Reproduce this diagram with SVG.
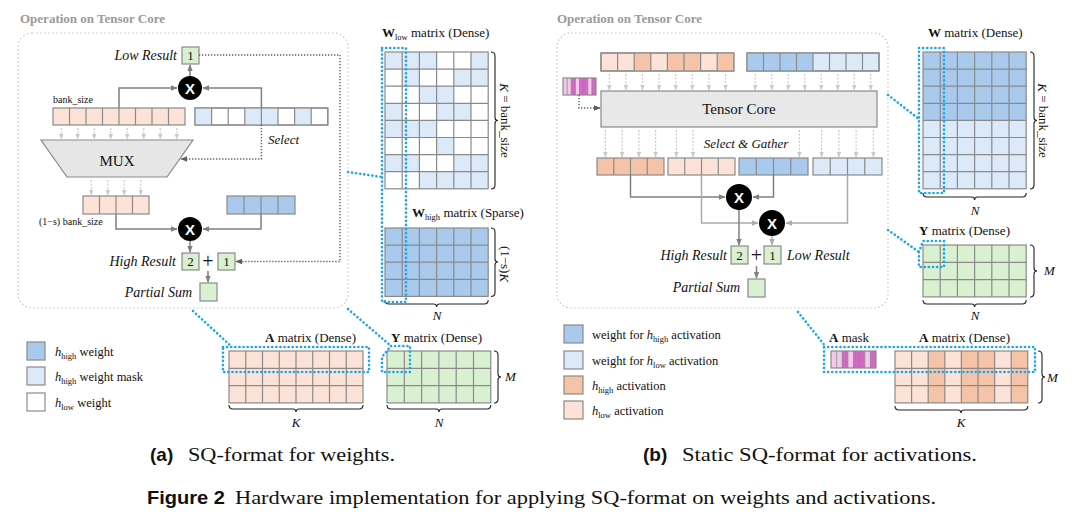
<svg xmlns="http://www.w3.org/2000/svg" width="1080" height="527" viewBox="0 0 1080 527">
<defs>
<style>
.t{font-family:"Liberation Serif","DejaVu Serif",serif;fill:#111;}
.it{font-style:italic;}
.b{font-weight:bold;}
.title{font-family:"Liberation Serif","DejaVu Serif",serif;font-weight:bold;font-size:13px;fill:#9a9a9a;}
.cell{stroke:#8a8a8a;stroke-width:1.2;}
.grid{stroke:#8a8a8a;stroke-width:1.2;fill:none;}
.thin{stroke:#8a8a8a;stroke-width:0.8;fill:none;}
.lo{fill:#fde3d7}.do{fill:#f5c3a7}.db{fill:#a9caed}.lb{fill:#dbe9f8}.gr{fill:#daf1d1}.wh{fill:#ffffff}
.mp{fill:#f2c9ec}.mm{fill:#d466c6}
.frame{fill:none;stroke:#c4c4c4;stroke-width:1.2;stroke-dasharray:1.5 2.5;}
.cy{fill:none;stroke:#1ea7e6;stroke-width:2.6;stroke-dasharray:0.1 4;stroke-linecap:round;}
.arr{fill:none;stroke:#7f7f7f;stroke-width:1.5;marker-end:url(#ah);}
.arrl{fill:none;stroke:#ababab;stroke-width:1.5;marker-end:url(#ahl);}
.dot{fill:none;stroke:#5e5e5e;stroke-width:1.4;stroke-dasharray:1.3 1.7;marker-end:url(#ahd);}
.sm{fill:none;stroke:#c9c9c9;stroke-width:1.2;stroke-dasharray:2 1.6;marker-end:url(#ahs);}
.brace{fill:none;stroke:#222;stroke-width:1.1;}
.xt{font-family:"Liberation Sans",Arial,sans-serif;font-weight:bold;font-size:15px;fill:#fff;text-anchor:middle;}
.cap{font-family:"Liberation Sans",Arial,sans-serif;font-weight:bold;fill:#111;}
.mux{fill:#e6e6e6;stroke:#8a8a8a;stroke-width:1.2;}
</style>
<marker id="ah" viewBox="0 0 10 10" refX="9" refY="5" markerWidth="7" markerHeight="7" markerUnits="userSpaceOnUse" orient="auto"><path d="M0,1 L10,5 L0,9 Z" fill="#7f7f7f"/></marker>
<marker id="ahl" viewBox="0 0 10 10" refX="9" refY="5" markerWidth="7" markerHeight="7" markerUnits="userSpaceOnUse" orient="auto"><path d="M0,1 L10,5 L0,9 Z" fill="#ababab"/></marker>
<marker id="ahd" viewBox="0 0 10 10" refX="9" refY="5" markerWidth="7" markerHeight="7" markerUnits="userSpaceOnUse" orient="auto"><path d="M0,1 L10,5 L0,9 Z" fill="#5e5e5e"/></marker>
<marker id="ahs" viewBox="0 0 10 10" refX="9" refY="5" markerWidth="6" markerHeight="6" markerUnits="userSpaceOnUse" orient="auto"><path d="M0,1 L10,5 L0,9 Z" fill="#c9c9c9"/></marker>
</defs>
<rect x="0" y="0" width="1080" height="527" fill="#ffffff"/>

<!-- ================= PANEL A ================= -->
<g id="a-frame">
<rect class="frame" x="18" y="33" width="330" height="275" rx="14"/>
<text class="title" x="20" y="23">Operation on Tensor Core</text>
</g>

<g id="a-low-result">
<text class="t it" x="177" y="60" font-size="14" text-anchor="end">Low Result</text>
<rect class="cell gr" x="182" y="47" width="17" height="17"/>
<text class="t" x="190.5" y="60" font-size="13" text-anchor="middle">1</text>
</g>

<g id="a-mult-low"><circle cx="190" cy="88" r="12" fill="#000"/><text class="xt" x="190" y="93.5">X</text></g>

<g id="a-act-row">
<text class="t" x="53" y="103" font-size="10">bank_size</text>
<rect class="cell lo" x="53" y="108" width="132" height="17"/>
<path class="grid" d="M69.5,108V125M86,108V125M102.5,108V125M119,108V125M135.5,108V125M152,108V125M168.5,108V125"/>
</g>

<g id="a-weight-row">
<rect class="cell wh" x="195" y="108" width="132.8" height="17"/>
<rect class="lb" x="195" y="108" width="16.6" height="17"/>
<rect class="lb" x="244.8" y="108" width="33.2" height="17"/>
<rect class="lb" x="294.6" y="108" width="16.6" height="17"/>
<rect class="grid" x="195" y="108" width="132.8" height="17"/>
<path class="grid" d="M211.6,108V125M228.2,108V125M244.8,108V125M261.4,108V125M278,108V125M294.6,108V125M311.2,108V125"/>
<text class="t it" x="268" y="144" font-size="13">Select</text>
</g>

<g id="a-mux">
<polygon class="mux" points="41,140 193,140 167,177 67,177"/>
<text class="t" x="117" y="166" font-size="15" text-anchor="middle">MUX</text>
</g>

<g id="a-high-act">
<rect class="cell lo" x="83" y="196" width="66" height="18"/>
<path class="grid" d="M99.5,196V214M116,196V214M132.5,196V214"/>
<text class="t" x="39" y="225" font-size="10">(1−s) bank_size</text>
</g>

<g id="a-high-weight">
<rect class="cell db" x="227" y="196" width="68" height="18"/>
<path class="grid" d="M244,196V214M261,196V214M278,196V214"/>
</g>

<g id="a-mult-high"><circle cx="190" cy="229" r="12" fill="#000"/><text class="xt" x="190" y="234.5">X</text></g>

<g id="a-high-result">
<text class="t it" x="176" y="266" font-size="14" text-anchor="end">High Result</text>
<rect class="cell gr" x="182" y="253" width="17" height="17"/>
<text class="t" x="190.5" y="266" font-size="13" text-anchor="middle">2</text>
<text class="t" x="208" y="268" font-size="20" text-anchor="middle">+</text>
<rect class="cell gr" x="218" y="253" width="17" height="17"/>
<text class="t" x="226.5" y="266" font-size="13" text-anchor="middle">1</text>
</g>

<g id="a-partial-sum">
<text class="t it" x="192" y="297" font-size="14" text-anchor="end">Partial Sum</text>
<rect class="cell gr" x="200" y="283" width="17" height="18"/>
</g>

<g id="a-wlow">
<text class="t" x="382" y="37" font-size="13"><tspan class="b">W</tspan><tspan font-size="8.5" dy="2.5">low</tspan><tspan dy="-2.5"> matrix (Dense)</tspan></text>
<rect class="wh" x="385" y="52" width="103.2" height="136.8"/>
<rect class="lb" x="385" y="52" width="51.6" height="17.1"/>
<rect class="lb" x="471" y="52" width="17.2" height="17.1"/>
<rect class="lb" x="402.2" y="69.1" width="17.2" height="17.1"/>
<rect class="lb" x="453.8" y="69.1" width="34.4" height="17.1"/>
<rect class="lb" x="419.4" y="86.2" width="34.4" height="17.1"/>
<rect class="lb" x="385" y="103.3" width="17.2" height="17.1"/>
<rect class="lb" x="436.6" y="103.3" width="34.4" height="17.1"/>
<rect class="lb" x="385" y="120.4" width="51.6" height="17.1"/>
<rect class="lb" x="436.6" y="137.5" width="17.2" height="17.1"/>
<rect class="lb" x="385" y="154.6" width="34.4" height="17.1"/>
<rect class="lb" x="453.8" y="154.6" width="34.4" height="17.1"/>
<rect class="lb" x="419.4" y="171.7" width="68.8" height="17.1"/>
<rect class="grid" x="385" y="52" width="103.2" height="136.8"/>
<path class="grid" d="M402.2,52V188.8M419.4,52V188.8M436.6,52V188.8M453.8,52V188.8M471,52V188.8M385,69.1H488.2M385,86.2H488.2M385,103.3H488.2M385,120.4H488.2M385,137.5H488.2M385,154.6H488.2M385,171.7H488.2"/>
<path class="brace" d="M491,52 Q495,52 495,56 V117.5 Q495,120.5 498,120.5 Q495,120.5 495,123.5 V185 Q495,189 491,189"/>
<text class="t" font-size="13" text-anchor="middle" dominant-baseline="central" transform="translate(505,120.5) rotate(90)"><tspan class="it">K</tspan> = bank_size</text>
</g>

<g id="a-whigh">
<text class="t" x="412" y="217" font-size="13"><tspan class="b">W</tspan><tspan font-size="8.5" dy="2.5">high</tspan><tspan dy="-2.5"> matrix (Sparse)</tspan></text>
<rect class="cell db" x="385" y="228" width="103.2" height="68.4"/>
<path class="grid" d="M402.2,228V296.4M419.4,228V296.4M436.6,228V296.4M453.8,228V296.4M471,228V296.4M385,245.1H488.2M385,262.2H488.2M385,279.3H488.2"/>
<path class="brace" d="M491,228 Q495,228 495,232 V259 Q495,262 498,262 Q495,262 495,265 V292.4 Q495,296.4 491,296.4"/>
<text class="t" font-size="13" text-anchor="middle" dominant-baseline="central" transform="translate(505,264) rotate(90)">(1−s)<tspan class="it">K</tspan></text>
<path class="brace" d="M385,300 Q385,304 389,304 H433.6 Q436.6,304 436.6,307 Q436.6,304 439.6,304 H484.2 Q488.2,304 488.2,300"/>
<text class="t it" x="437" y="320" font-size="13" text-anchor="middle">N</text>
</g>

<g id="a-amatrix">
<text class="t" x="265" y="342" font-size="13"><tspan class="b">A</tspan> matrix (Dense)</text>
<rect class="cell lo" x="229" y="351" width="134" height="51.9"/>
<path class="grid" d="M245.75,351V402.9M262.5,351V402.9M279.25,351V402.9M296,351V402.9M312.75,351V402.9M329.5,351V402.9M346.25,351V402.9M229,368.3H363M229,385.6H363"/>
<path class="brace" d="M229,405 Q229,409 233,409 H293 Q296,409 296,412 Q296,409 299,409 H359 Q363,409 363,405"/>
<text class="t it" x="296" y="427" font-size="13" text-anchor="middle">K</text>
</g>

<g id="a-ymatrix">
<text class="t" x="391" y="342" font-size="13"><tspan class="b">Y</tspan> matrix (Dense)</text>
<rect class="cell gr" x="387" y="351" width="103.8" height="51.9"/>
<path class="grid" d="M404.3,351V402.9M421.6,351V402.9M438.9,351V402.9M456.2,351V402.9M473.5,351V402.9M387,368.3H490.8M387,385.6H490.8"/>
<path class="brace" d="M494,351 Q498,351 498,355 V374 Q498,377 501,377 Q498,377 498,380 V399 Q498,403 494,403"/>
<text class="t it" x="505" y="381" font-size="13">M</text>
<path class="brace" d="M387,405 Q387,409 391,409 H436 Q439,409 439,412 Q439,409 442,409 H486.8 Q490.8,409 490.8,405"/>
<text class="t it" x="439" y="427" font-size="13" text-anchor="middle">N</text>
</g>

<g id="a-legend">
<rect class="cell db" x="27" y="342" width="18" height="18"/>
<text class="t" x="55" y="356" font-size="12.5"><tspan class="it">h</tspan><tspan font-size="8.5" dy="2.5">high</tspan><tspan dy="-2.5"> weight</tspan></text>
<rect class="cell lb" x="27" y="367" width="18" height="18"/>
<text class="t" x="55" y="381" font-size="12.5"><tspan class="it">h</tspan><tspan font-size="8.5" dy="2.5">high</tspan><tspan dy="-2.5"> weight mask</tspan></text>
<rect class="cell wh" x="27" y="393" width="18" height="18"/>
<text class="t" x="55" y="407" font-size="12.5"><tspan class="it">h</tspan><tspan font-size="8.5" dy="2.5">low</tspan><tspan dy="-2.5"> weight</tspan></text>
</g>

<!-- ================= PANEL B ================= -->
<g id="b-frame">
<rect class="frame" x="557" y="33" width="331" height="275" rx="14"/>
<text class="title" x="557" y="23">Operation on Tensor Core</text>
</g>

<g id="b-act-row">
<rect class="cell lo" x="601" y="53" width="132.8" height="18"/>
<rect class="do" x="634.2" y="53" width="16.6" height="18"/>
<rect class="do" x="667.4" y="53" width="33.2" height="18"/>
<rect class="do" x="717.2" y="53" width="16.6" height="18"/>
<rect class="grid" x="601" y="53" width="132.8" height="18"/>
<path class="grid" d="M617.6,53V71M634.2,53V71M650.8,53V71M667.4,53V71M684,53V71M700.6,53V71M717.2,53V71"/>
</g>

<g id="b-weight-row">
<rect class="cell lb" x="747" y="53" width="132" height="18"/>
<rect class="db" x="747" y="53" width="66" height="18"/>
<rect class="grid" x="747" y="53" width="132" height="18"/>
<path class="grid" d="M763.5,53V71M780,53V71M796.5,53V71M813,53V71M829.5,53V71M846,53V71M862.5,53V71"/>
</g>

<g id="b-mask">
<rect class="mp" x="563" y="78" width="33" height="17"/>
<rect class="mm" x="571.25" y="78" width="4.125" height="17"/>
<rect class="mm" x="579.5" y="78" width="8.25" height="17"/>
<rect class="mm" x="591.875" y="78" width="4.125" height="17"/>
<path class="thin" d="M567.125,78V95M571.25,78V95M575.375,78V95M579.5,78V95M583.625,78V95M587.75,78V95M591.875,78V95"/>
<rect class="grid" x="563" y="78" width="33" height="17"/>
</g>

<g id="b-tensor-core">
<rect x="601" y="91" width="276" height="36" fill="#e8e8e8" stroke="#8a8a8a" stroke-width="1.2"/>
<text class="t" x="739" y="114" font-size="15" text-anchor="middle">Tensor Core</text>
<text class="t it" x="746" y="148" font-size="13" text-anchor="middle">Select &amp; Gather</text>
</g>

<g id="b-gathered">
<rect class="cell do" x="597" y="158" width="67" height="17"/>
<path class="grid" d="M613.75,158V175M630.5,158V175M647.25,158V175"/>
<rect class="cell lo" x="668" y="158" width="67" height="17"/>
<path class="grid" d="M684.75,158V175M701.5,158V175M718.25,158V175"/>
<rect class="cell db" x="739" y="158" width="69" height="17"/>
<path class="grid" d="M756.25,158V175M773.5,158V175M790.75,158V175"/>
<rect class="cell lb" x="813" y="158" width="69" height="17"/>
<path class="grid" d="M830.25,158V175M847.5,158V175M864.75,158V175"/>
</g>

<g id="b-mult-high"><circle cx="739" cy="197" r="13" fill="#000"/><text class="xt" x="739" y="202.5">X</text></g>
<g id="b-mult-low"><circle cx="772" cy="223" r="13" fill="#000"/><text class="xt" x="772" y="228.5">X</text></g>

<g id="b-results">
<text class="t it" x="727" y="260" font-size="14" text-anchor="end">High Result</text>
<rect class="cell gr" x="731" y="246" width="17" height="18"/>
<text class="t" x="739.5" y="259.5" font-size="13" text-anchor="middle">2</text>
<text class="t" x="756.5" y="262" font-size="20" text-anchor="middle">+</text>
<rect class="cell gr" x="764" y="246" width="17" height="18"/>
<text class="t" x="772.5" y="259.5" font-size="13" text-anchor="middle">1</text>
<text class="t it" x="787" y="260" font-size="14">Low Result</text>
</g>

<g id="b-partial-sum">
<text class="t it" x="740" y="292" font-size="14" text-anchor="end">Partial Sum</text>
<rect class="cell gr" x="748" y="279" width="17" height="18"/>
</g>

<g id="b-wmatrix">
<text class="t" x="928" y="37" font-size="13"><tspan class="b">W</tspan> matrix (Dense)</text>
<rect class="lb" x="923" y="52" width="103.2" height="136.8"/>
<rect class="db" x="923" y="52" width="103.2" height="68.4"/>
<rect class="grid" x="923" y="52" width="103.2" height="136.8"/>
<path class="grid" d="M940.2,52V188.8M957.4,52V188.8M974.6,52V188.8M991.8,52V188.8M1009,52V188.8M923,69.1H1026.2M923,86.2H1026.2M923,103.3H1026.2M923,120.4H1026.2M923,137.5H1026.2M923,154.6H1026.2M923,171.7H1026.2"/>
<path class="brace" d="M1030,52 Q1034,52 1034,56 V117.5 Q1034,120.5 1037,120.5 Q1034,120.5 1034,123.5 V185 Q1034,189 1030,189"/>
<text class="t" font-size="13" text-anchor="middle" dominant-baseline="central" transform="translate(1043,120.5) rotate(90)"><tspan class="it">K</tspan> = bank_size</text>
<path class="brace" d="M923,193 Q923,197 927,197 H971.6 Q974.6,197 974.6,200 Q974.6,197 977.6,197 H1022.2 Q1026.2,197 1026.2,193"/>
<text class="t it" x="975" y="215" font-size="13" text-anchor="middle">N</text>
</g>

<g id="b-ymatrix">
<text class="t" x="919" y="235" font-size="13"><tspan class="b">Y</tspan> matrix (Dense)</text>
<rect class="cell gr" x="923" y="245" width="103.2" height="51.9"/>
<path class="grid" d="M940.2,245V296.9M957.4,245V296.9M974.6,245V296.9M991.8,245V296.9M1009,245V296.9M923,262.3H1026.2M923,279.6H1026.2"/>
<path class="brace" d="M1030,245 Q1034,245 1034,249 V268 Q1034,271 1037,271 Q1034,271 1034,274 V293 Q1034,297 1030,297"/>
<text class="t it" x="1044" y="275" font-size="13">M</text>
<path class="brace" d="M923,300 Q923,304 927,304 H971.6 Q974.6,304 974.6,307 Q974.6,304 977.6,304 H1022.2 Q1026.2,304 1026.2,300"/>
<text class="t it" x="975" y="320" font-size="13" text-anchor="middle">N</text>
</g>

<g id="b-amask">
<text class="t" x="829" y="342" font-size="13"><tspan class="b">A</tspan> mask</text>
<rect class="mp" x="831" y="351" width="45" height="17"/>
<rect class="mm" x="842.25" y="351" width="5.625" height="17"/>
<rect class="mm" x="853.5" y="351" width="11.25" height="17"/>
<rect class="mm" x="870.375" y="351" width="5.625" height="17"/>
<path class="thin" d="M836.625,351V368M842.25,351V368M847.875,351V368M853.5,351V368M859.125,351V368M864.75,351V368M870.375,351V368"/>
<rect class="grid" x="831" y="351" width="45" height="17"/>
</g>

<g id="b-amatrix">
<text class="t" x="919" y="342" font-size="13"><tspan class="b">A</tspan> matrix (Dense)</text>
<rect class="lo" x="895" y="351" width="132.8" height="51.9"/>
<rect class="do" x="928.2" y="351" width="16.6" height="51.9"/>
<rect class="do" x="961.4" y="351" width="33.2" height="51.9"/>
<rect class="do" x="1011.2" y="351" width="16.6" height="51.9"/>
<rect class="grid" x="895" y="351" width="132.8" height="51.9"/>
<path class="grid" d="M911.6,351V402.9M928.2,351V402.9M944.8,351V402.9M961.4,351V402.9M978,351V402.9M994.6,351V402.9M1011.2,351V402.9M895,368.3H1027.8M895,385.6H1027.8"/>
<path class="brace" d="M1038,351 Q1042,351 1042,355 V374 Q1042,377 1045,377 Q1042,377 1042,380 V399 Q1042,403 1038,403"/>
<text class="t it" x="1047" y="382" font-size="13">M</text>
<path class="brace" d="M895,406 Q895,410 899,410 H958 Q961,410 961,413 Q961,410 964,410 H1023.8 Q1027.8,410 1027.8,406"/>
<text class="t it" x="961" y="427" font-size="13" text-anchor="middle">K</text>
</g>

<g id="b-legend">
<rect class="cell db" x="564" y="325" width="19" height="18"/>
<text class="t" x="592" y="339" font-size="12.5">weight for <tspan class="it">h</tspan><tspan font-size="8.5" dy="2.5">high</tspan><tspan dy="-2.5"> activation</tspan></text>
<rect class="cell lb" x="564" y="351" width="19" height="18"/>
<text class="t" x="592" y="365" font-size="12.5">weight for <tspan class="it">h</tspan><tspan font-size="8.5" dy="2.5">low</tspan><tspan dy="-2.5"> activation</tspan></text>
<rect class="cell do" x="564" y="376" width="19" height="18"/>
<text class="t" x="592" y="390" font-size="12.5"><tspan class="it">h</tspan><tspan font-size="8.5" dy="2.5">high</tspan><tspan dy="-2.5"> activation</tspan></text>
<rect class="cell lo" x="564" y="401" width="19" height="18"/>
<text class="t" x="592" y="415" font-size="12.5"><tspan class="it">h</tspan><tspan font-size="8.5" dy="2.5">low</tspan><tspan dy="-2.5"> activation</tspan></text>
</g>

<!-- ================= CONNECTORS ================= -->
<g id="connectors">
<path class="arr" d="M190,76 V65"/>
<path class="arr" d="M119,108 V88 H177"/>
<path class="arr" d="M261.4,108 V88 H203"/>
<path class="dot" d="M261.4,125 V159 H181"/>
<path class="dot" d="M199,55 H340 V261.5 H236"/>
<line class="sm" x1="61.25" y1="128" x2="61.25" y2="139"/>
<line class="sm" x1="77.75" y1="128" x2="77.75" y2="139"/>
<line class="sm" x1="94.25" y1="128" x2="94.25" y2="139"/>
<line class="sm" x1="110.75" y1="128" x2="110.75" y2="139"/>
<line class="sm" x1="127.25" y1="128" x2="127.25" y2="139"/>
<line class="sm" x1="143.75" y1="128" x2="143.75" y2="139"/>
<line class="sm" x1="160.25" y1="128" x2="160.25" y2="139"/>
<line class="sm" x1="176.75" y1="128" x2="176.75" y2="139"/>
<line class="sm" x1="91.25" y1="180" x2="91.25" y2="195"/>
<line class="sm" x1="107.75" y1="180" x2="107.75" y2="195"/>
<line class="sm" x1="124.25" y1="180" x2="124.25" y2="195"/>
<line class="sm" x1="140.75" y1="180" x2="140.75" y2="195"/>
<path class="arr" d="M116,214 V229 H177"/>
<path class="arr" d="M261,214 V229 H203"/>
<path class="arr" d="M190,241 V252"/>
<path class="arr" d="M208,271 V282"/>
<path class="dot" d="M579,95 V108 H600"/>
<line class="sm" x1="609.3" y1="74" x2="609.3" y2="90"/>
<line class="sm" x1="625.9" y1="74" x2="625.9" y2="90"/>
<line class="sm" x1="642.5" y1="74" x2="642.5" y2="90"/>
<line class="sm" x1="659.1" y1="74" x2="659.1" y2="90"/>
<line class="sm" x1="675.7" y1="74" x2="675.7" y2="90"/>
<line class="sm" x1="692.3" y1="74" x2="692.3" y2="90"/>
<line class="sm" x1="708.9" y1="74" x2="708.9" y2="90"/>
<line class="sm" x1="725.5" y1="74" x2="725.5" y2="90"/>
<line class="sm" x1="755.25" y1="74" x2="755.25" y2="90"/>
<line class="sm" x1="771.75" y1="74" x2="771.75" y2="90"/>
<line class="sm" x1="788.25" y1="74" x2="788.25" y2="90"/>
<line class="sm" x1="804.75" y1="74" x2="804.75" y2="90"/>
<line class="sm" x1="821.25" y1="74" x2="821.25" y2="90"/>
<line class="sm" x1="837.75" y1="74" x2="837.75" y2="90"/>
<line class="sm" x1="854.25" y1="74" x2="854.25" y2="90"/>
<line class="sm" x1="870.75" y1="74" x2="870.75" y2="90"/>
<line class="sm" x1="605.4" y1="130" x2="605.4" y2="157"/>
<line class="sm" x1="622.1" y1="130" x2="622.1" y2="157"/>
<line class="sm" x1="638.9" y1="130" x2="638.9" y2="157"/>
<line class="sm" x1="655.6" y1="130" x2="655.6" y2="157"/>
<line class="sm" x1="676.4" y1="130" x2="676.4" y2="157"/>
<line class="sm" x1="693.1" y1="130" x2="693.1" y2="157"/>
<line class="sm" x1="799.4" y1="130" x2="799.4" y2="157"/>
<line class="sm" x1="821.6" y1="130" x2="821.6" y2="157"/>
<line class="sm" x1="838.9" y1="130" x2="838.9" y2="157"/>
<line class="sm" x1="856.1" y1="130" x2="856.1" y2="157"/>
<line class="sm" x1="873.4" y1="130" x2="873.4" y2="157"/>
<path class="arr" d="M630.5,175 V197 H725"/>
<path class="arr" d="M773.5,175 V197 H753"/>
<path class="arrl" d="M701.5,175 V223 H758"/>
<path class="arrl" d="M847.5,175 V223 H786"/>
<path class="arr" d="M739,210 V245"/>
<path class="arrl" d="M772,236 V245"/>
<path class="arr" d="M756.5,266 V278"/>
<path class="cy" d="M348,172 L382,177"/>
<path class="cy" d="M193,311 L232,347"/>
<path class="cy" d="M348,309 L391,346"/>
<path class="cy" d="M888,95 L919,119"/>
<path class="cy" d="M888,230 L919,252"/>
<path class="cy" d="M798,312 L826,347"/>
</g>

<g id="highlights">
<rect class="cy" x="382" y="48" width="24" height="254"/>
<rect class="cy" x="223" y="347" width="146" height="25"/>
<path class="cy" d="M391,346 L410,346 L410,372 L382,372 L382,357 Z"/>
<rect class="cy" x="919" y="48" width="25" height="145"/>
<path class="cy" d="M919,252 L923,241 L944,241 L944,267 L919,267 Z"/>
<rect class="cy" x="824" y="347" width="211" height="25"/>
</g>

<g id="captions">
<text class="cap" x="150" y="461" font-size="19">(a)</text>
<text class="t" x="188" y="461" font-size="19" textLength="207" lengthAdjust="spacingAndGlyphs">SQ-format for weights.</text>
<text class="cap" x="643" y="461" font-size="19">(b)</text>
<text class="t" x="682" y="461" font-size="19" textLength="295" lengthAdjust="spacingAndGlyphs">Static SQ-format for activations.</text>
<text class="cap" x="147" y="504" font-size="18" textLength="78" lengthAdjust="spacingAndGlyphs">Figure 2</text>
<text class="t" x="235" y="504" font-size="19" textLength="701" lengthAdjust="spacingAndGlyphs">Hardware implementation for applying SQ-format on weights and activations.</text>
</g>
</svg>
